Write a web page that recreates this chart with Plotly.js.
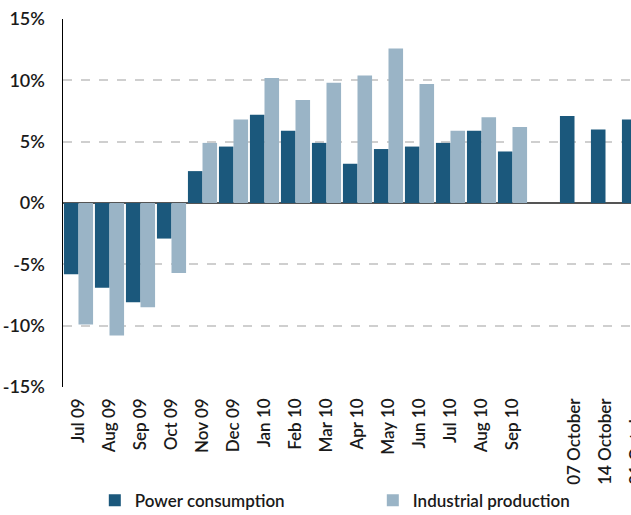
<!DOCTYPE html>
<html>
<head>
<meta charset="utf-8">
<script src="https://cdn.plot.ly/plotly-3.0.1.min.js"></script>
<style>
html, body { margin: 0; padding: 0; overflow: hidden; background: #fff; }
#chart { width: 660px; height: 515px; }
</style>
</head>
<body>
<div id="chart"></div>
<script>
const categories = ["Jul 09","Aug 09","Sep 09","Oct 09","Nov 09","Dec 09","Jan 10","Feb 10","Mar 10","Apr 10","May 10","Jun 10","Jul 10","Aug 10","Sep 10","","07 October","14 October","21 October"];
const powerConsumption = [-5.8,-6.9,-8.1,-2.9,2.6,4.6,7.2,5.9,4.9,3.2,4.4,4.6,4.9,5.9,4.2,null,7.1,6.0,6.8];
const industrialProduction = [-9.9,-10.8,-8.5,-5.7,4.9,6.8,10.2,8.4,9.8,10.4,12.6,9.7,5.9,7.0,6.2,null,null,null,null];
const yTicks = [-15,-10,-5,0,5,10,15];
const yTickLabels = ["-15%","-10%","-5%","0%","5%","10%","15%"];

const xIdx = categories.map((c, i) => i);
const FONT = "Lato, 'DejaVu Sans', sans-serif";

const traces = [
  { type: 'bar', name: 'Power consumption', x: xIdx, y: powerConsumption,
    marker: { color: '#1b587c' }, hoverinfo: 'skip', legend: 'legend' },
  { type: 'bar', name: 'Industrial production', x: xIdx, y: industrialProduction,
    marker: { color: '#9ab4c6' }, hoverinfo: 'skip', legend: 'legend2' }
];

const legendFont = { family: FONT, size: 17, color: '#1a1a1a', weight: 600 };
const layout = {
  width: 660, height: 515,
  margin: { l: 63, r: 8, t: 19, b: 128 },
  paper_bgcolor: '#ffffff', plot_bgcolor: '#ffffff',
  barmode: 'group', bargap: 0.06, bargroupgap: 0.0,
  font: { family: FONT, size: 17, color: '#1a1a1a' },
  showlegend: true,
  legend: { orientation: 'h', xref: 'paper', yref: 'container', x: 0.054, xanchor: 'left', y: 0.028, yanchor: 'middle',
            font: legendFont, bgcolor: 'rgba(0,0,0,0)' },
  legend2: { orientation: 'h', xref: 'paper', yref: 'container', x: 0.526, xanchor: 'left', y: 0.028, yanchor: 'middle',
            font: legendFont, bgcolor: 'rgba(0,0,0,0)' },
  xaxis: {
    type: 'linear', range: [-0.5, 18.5],
    tickmode: 'array', tickvals: xIdx, ticktext: categories,
    tickangle: -90, showgrid: false, zeroline: false, showline: false,
    ticks: '', ticklabelstandoff: 7,
    tickfont: { family: FONT, size: 17, color: '#1a1a1a', weight: 600 }, fixedrange: true
  },
  yaxis: {
    range: [-15, 15], tickmode: 'array', tickvals: yTicks, ticktext: yTickLabels,
    showgrid: true, gridcolor: '#cfcfcf', gridwidth: 2, griddash: 'dash',
    zeroline: true, zerolinecolor: '#555555', zerolinewidth: 2,
    showline: true, linecolor: '#000000', linewidth: 1.5,
    ticks: '', ticklabelstandoff: 13,
    tickfont: { family: FONT, size: 18, color: '#1a1a1a', weight: 600 }, fixedrange: true
  }
};

Plotly.newPlot('chart', traces, layout, { displayModeBar: false, staticPlot: true });
</script>
</body>
</html>
